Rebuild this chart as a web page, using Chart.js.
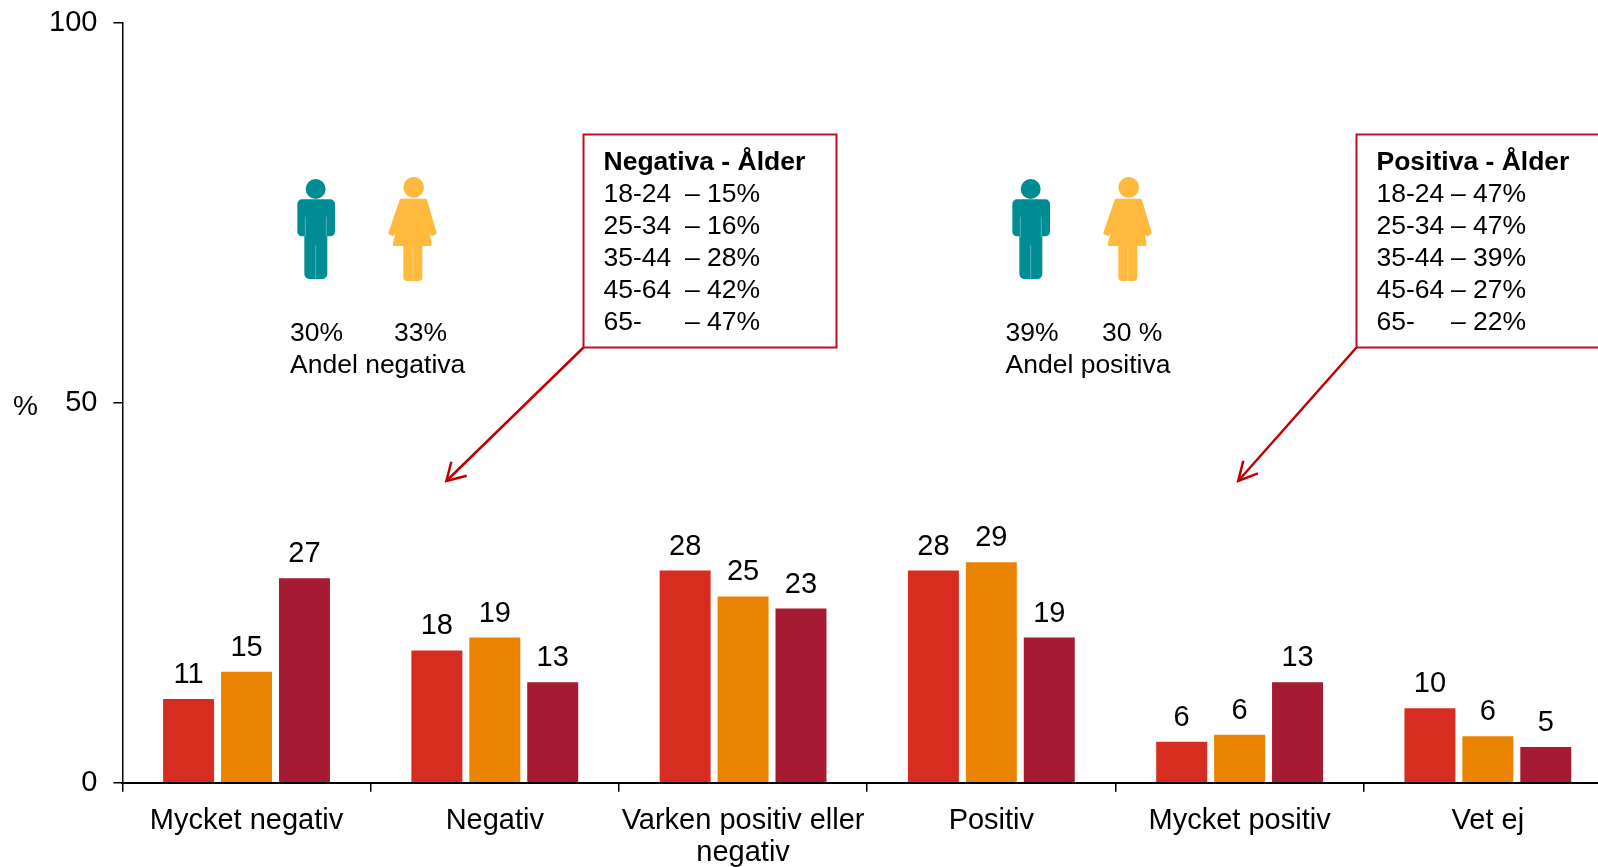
<!DOCTYPE html>
<html>
<head>
<meta charset="utf-8">
<style>
  html, body { margin: 0; padding: 0; background: #fff; overflow: hidden; }
  #wrap { width: 1598px; height: 867px; overflow: hidden; position: relative; }
  canvas { display: block; }
</style>
<script src="https://cdn.jsdelivr.net/npm/chart.js@4/dist/chart.umd.min.js"></script>
</head>
<body>
<div id="wrap"><canvas id="chart" width="1640" height="867"></canvas></div>
<script>
const categories = ["Mycket negativ", "Negativ", ["Varken positiv eller", "negativ"], "Positiv", "Mycket positiv", "Vet ej"];
const yTicks = [0, 50, 100];

// bar heights, printed labels kept apart (they are rounded)
const seriesA = [11, 17.4, 27.9, 27.9, 5.4, 9.8];
const seriesB = [14.6, 19.1, 24.5, 29, 6.3, 6.1];
const seriesC = [26.9, 13.2, 22.9, 19.1, 13.2, 4.7];
const labelsA = [11, 18, 28, 28, 6, 10];
const labelsB = [15, 19, 25, 29, 6, 6];
const labelsC = [27, 13, 23, 19, 13, 5];

const ages = ["18-24", "25-34", "35-44", "45-64", "65-"];
const negativaAge = ["– 15%", "– 16%", "– 28%", "– 42%", "– 47%"];
const positivaAge = ["– 47%", "– 47%", "– 39%", "– 27%", "– 22%"];

const FONT_CHART = '29px "Liberation Sans"';
const FONT_NOTE = '26.5px "Liberation Sans"';
const FONT_NOTE_BOLD = 'bold 26.5px "Liberation Sans"';
const RED_LINE = "#c00d1e";

// open arrow from the corner of the box
function arrow(ctx, x1, y1, x2, y2, bx1, by1, bx2, by2) {
  ctx.strokeStyle = "#c00000";
  ctx.lineWidth = 2.5;
  ctx.beginPath();
  ctx.moveTo(x1, y1);
  ctx.lineTo(x2, y2);
  ctx.moveTo(bx1, by1);
  ctx.lineTo(x2, y2);
  ctx.lineTo(bx2, by2);
  ctx.stroke();
}

function callout(ctx, boxX, title, right, dashOffset) {
  ctx.strokeStyle = RED_LINE;
  ctx.lineWidth = 2;
  ctx.fillStyle = "#fff";
  ctx.beginPath();
  ctx.rect(boxX, 134.5, 253, 213);
  ctx.fill();
  ctx.stroke();
  ctx.fillStyle = "#000";
  ctx.font = FONT_NOTE_BOLD;
  ctx.fillText(title, boxX + 20, 170);
  ctx.font = FONT_NOTE;
  ages.forEach((a, i) => {
    const y = 202 + i * 32;
    ctx.fillText(a, boxX + 20, y);
    ctx.fillText(right[i], boxX + 20 + dashOffset, y);
  });
}

// pictograms, drawn at 3x in their own little coordinate space
function slit(ctx, x1, y1, x2, y2) {
  ctx.strokeStyle = "rgba(255,255,255,0.4)";
  ctx.lineWidth = 2.5;
  ctx.beginPath();
  ctx.moveTo(x1, y1);
  ctx.lineTo(x2, y2);
  ctx.stroke();
}

function man(ctx, dx) {
  ctx.save();
  ctx.translate(280 + dx, 165);
  ctx.scale(1 / 3, 1 / 3);
  ctx.fillStyle = "#008c95";
  ctx.beginPath();
  ctx.arc(107, 72, 30, 0, Math.PI * 2);
  ctx.fill();
  ctx.beginPath();
  ctx.roundRect(52, 103, 113, 111, 14);
  ctx.fill();
  ctx.beginPath();
  ctx.roundRect(73, 110, 69, 232, 16);
  ctx.fill();
  slit(ctx, 76, 155, 76, 216);
  slit(ctx, 139, 155, 139, 216);
  slit(ctx, 107, 240, 107, 345);
  ctx.restore();
}

function woman(ctx, dx) {
  ctx.save();
  ctx.translate(280 + dx, 165);
  ctx.scale(1 / 3, 1 / 3);
  ctx.fillStyle = "#ffb93c";
  ctx.strokeStyle = "#ffb93c";
  ctx.lineJoin = "round";
  ctx.lineWidth = 10;
  ctx.beginPath();
  ctx.arc(401, 67, 31, 0, Math.PI * 2);
  ctx.fill();
  ctx.beginPath();
  ctx.moveTo(364, 106);
  ctx.lineTo(436, 106);
  ctx.lineTo(465, 204);
  ctx.lineTo(456, 208);
  ctx.lineTo(436, 160);
  ctx.lineTo(450, 238);
  ctx.lineTo(343, 238);
  ctx.lineTo(364, 160);
  ctx.lineTo(339, 208);
  ctx.lineTo(330, 204);
  ctx.closePath();
  ctx.fill();
  ctx.stroke();
  ctx.beginPath();
  ctx.roundRect(370, 230, 57, 118, 12);
  ctx.fill();
  slit(ctx, 398.5, 245, 398.5, 350);
  ctx.restore();
}

const overlay = {
  id: "overlay",
  afterDatasetsDraw(chart) {
    const ctx = chart.ctx;
    ctx.save();
    ctx.font = FONT_CHART;
    ctx.fillStyle = "#000";

    // value labels over the bars
    const printed = [labelsA, labelsB, labelsC];
    ctx.textAlign = "center";
    chart.data.datasets.forEach((ds, d) => {
      chart.getDatasetMeta(d).data.forEach((bar, i) => {
        ctx.fillText(String(printed[d][i]), bar.x, bar.y - 16);
      });
    });
    ctx.textAlign = "left";

    ctx.font = '28px "Liberation Sans"';
    ctx.fillText("%", 13, 415);

    man(ctx, 0);
    woman(ctx, 0);
    man(ctx, 715);
    woman(ctx, 715);

    ctx.fillStyle = "#000";
    ctx.font = FONT_NOTE;
    ctx.fillText("30%", 290, 341);
    ctx.fillText("33%", 394, 341);
    ctx.fillText("Andel negativa", 290, 373);
    ctx.fillText("39%", 1005.5, 341);
    ctx.fillText("30 %", 1102, 341);
    ctx.fillText("Andel positiva", 1005.5, 373);

    arrow(ctx, 583.5, 347.5, 446.4, 481, 451.3, 461.7, 466.7, 475.7);
    arrow(ctx, 1356.5, 347.5, 1238.2, 481, 1243.3, 460.7, 1257.9, 473.3);
    callout(ctx, 583.5, "Negativa - Ålder", negativaAge, 81.5);
    callout(ctx, 1356.5, "Positiva - Ålder", positivaAge, 74.5);
    ctx.restore();
  }
};

new Chart(document.getElementById("chart"), {
  type: "bar",
  data: {
    labels: categories,
    datasets: [
      { data: seriesA, backgroundColor: "#d62d20" },
      { data: seriesB, backgroundColor: "#ea8300" },
      { data: seriesC, backgroundColor: "#a61a32" },
    ],
  },
  options: {
    responsive: false,
    animation: false,
    barPercentage: 0.88,
    categoryPercentage: 0.7,
    layout: { padding: { top: 22.5, left: 0, right: 28, bottom: 0 } },
    plugins: { legend: { display: false }, tooltip: { enabled: false } },
    scales: {
      x: {
        afterFit: (scale) => { scale.height = 84.3; },
        grid: { drawOnChartArea: false, offset: true, color: "#000", lineWidth: 1.5, tickLength: 9 },
        border: { color: "#000", width: 2 },
        ticks: {
          color: "#000",
          font: { family: "Liberation Sans", size: 29, lineHeight: 1.103 },
          maxRotation: 0,
          autoSkip: false,
          padding: 13,
        },
      },
      y: {
        min: 0,
        max: 100,
        afterFit: (scale) => {
          scale.width = 122.4;
          // the top label would otherwise push the plot area down
          scale.paddingTop = 0;
          scale.paddingBottom = 0;
        },
        afterBuildTicks: (scale) => { scale.ticks = yTicks.map((v) => ({ value: v })); },
        grid: { drawOnChartArea: false, color: "#000", lineWidth: 1.5, tickLength: 9 },
        border: { color: "#000", width: 1.5 },
        ticks: {
          color: "#000",
          font: { family: "Liberation Sans", size: 29 },
          padding: 16,
        },
      },
    },
  },
  plugins: [overlay],
});
</script>
</body>
</html>
